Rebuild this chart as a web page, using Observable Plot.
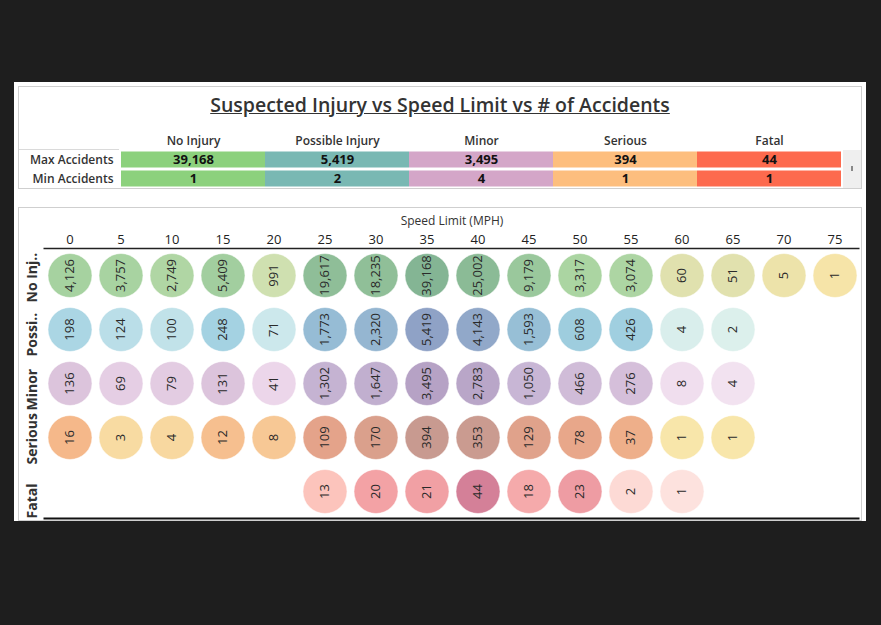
<!DOCTYPE html>
<html><head><meta charset="utf-8">
<script src="https://cdn.jsdelivr.net/npm/d3@7"></script>
<script src="https://cdn.jsdelivr.net/npm/@observablehq/plot@0.6"></script>
<style>
body{margin:0;background:#1e1e1e;}
#page{position:relative;width:881px;height:625px;overflow:hidden;font-family:"Open Sans",sans-serif;}
#sheet{position:absolute;left:14px;top:82px;width:852px;height:439px;background:#fff;}
.panel{position:absolute;border:1px solid #cfcfcf;box-sizing:border-box;}
#top{left:18px;top:86px;width:844px;height:103px;}
#bottom{left:18px;top:207px;width:844px;height:314px;}
#title{position:absolute;left:18px;top:92px;width:844px;text-align:center;font:600 19.5px/26px "Open Sans",sans-serif;color:#333;text-decoration:underline;}
#scroll{position:absolute;left:843px;top:150px;width:18px;height:38px;background:#efefef;}
#scroll div{position:absolute;left:8px;top:16px;width:2px;height:5px;background:#888;}
#hline{position:absolute;left:19px;top:149px;width:100px;height:1px;background:#dadada;}
#tableChart,#bubbleChart{position:absolute;}
#tableChart{left:18px;top:86px;}
#bubbleChart{left:18px;top:207px;}
</style></head>
<body>
<div id="page">
  <div id="sheet"></div>
  <div class="panel" id="top"></div>
  <div class="panel" id="bottom"></div>
  <div id="title">Suspected Injury vs Speed Limit vs # of Accidents</div>
  <div id="hline"></div>
  <div id="scroll"><div></div></div>
  <div id="tableChart"></div>
  <div id="bubbleChart"></div>
</div>
<script>
// ---- data ----
const categories = ["No Injury", "Possible Injury", "Minor", "Serious", "Fatal"];
const statNames = ["Max Accidents", "Min Accidents"];
const maxAccidents = [39168, 5419, 3495, 394, 44];
const minAccidents = [1, 2, 4, 1, 1];

const speeds = [0, 5, 10, 15, 20, 25, 30, 35, 40, 45, 50, 55, 60, 65, 70, 75];
const rowLabels = ["No Inj..", "Possi..", "Minor", "Serious", "Fatal"];
const noInjury       = [4126, 3757, 2749, 5409, 991, 19617, 18235, 39168, 25002, 9179, 3317, 3074, 60, 51, 5, 1];
const possibleInjury = [198, 124, 100, 248, 71, 1773, 2320, 5419, 4143, 1593, 608, 426, 4, 2, null, null];
const minor          = [136, 69, 79, 131, 41, 1302, 1647, 3495, 2783, 1050, 466, 276, 8, 4, null, null];
const serious        = [16, 3, 4, 12, 8, 109, 170, 394, 353, 129, 78, 37, 1, 1, null, null];
const fatal          = [null, null, null, null, null, 13, 20, 21, 44, 18, 23, 2, 1, null, null, null];

// ---- styles ----
const catColors = {"No Injury": "#8cd17d", "Possible Injury": "#79b8b3", "Minor": "#d4a6c8", "Serious": "#fdbe7e", "Fatal": "#fd6a4e"};
const rowRamps = {
  "No Injury":       {d: [1, 60, 991, 3500, 39168], c: ["#f6e4a8", "#e0e1ae", "#cfe0b0", "#a9d4a1", "#84b594"]},
  "Possible Injury": {d: [2, 71, 250, 1000, 5419],  c: ["#dcf0ec", "#cce8ec", "#a4d2e2", "#9acadc", "#8fa2c6"]},
  "Minor":           {d: [4, 41, 130, 1000, 3495],  c: ["#f2e2f0", "#ecd6ea", "#dcc4dc", "#c9b7d6", "#b6a2c5"]},
  "Serious":         {d: [1, 4, 16, 100, 394],      c: ["#f8e6aa", "#f8d8a0", "#f5b88a", "#e6a48a", "#c89a90"]},
  "Fatal":           {d: [1, 13, 20, 44],           c: ["#fde2de", "#fcc4bc", "#f3a2a5", "#d48098"]}
};
const rampScales = {};
for (const k of categories) {
  rampScales[k] = d3.scaleLog().domain(rowRamps[k].d).range(rowRamps[k].c).interpolate(d3.interpolateRgb).clamp(true);
}

const fmt = d3.format(",");

// ---- build tables ----
const tableCells = [];
categories.forEach((c, i) => {
  tableCells.push({cat: c, stat: statNames[0], value: maxAccidents[i]});
  tableCells.push({cat: c, stat: statNames[1], value: minAccidents[i]});
});

const series = [noInjury, possibleInjury, minor, serious, fatal];
const cells = [];
series.forEach((vals, r) => {
  vals.forEach((v, i) => {
    if (v != null) cells.push({row: categories[r], speed: speeds[i], value: v});
  });
});

// ---- table chart ----
const table = Plot.plot({
  width: 843, height: 102,
  marginLeft: 101, marginRight: 18, marginTop: 63, marginBottom: 0,
  style: {background: "transparent", fontFamily: "'Open Sans', sans-serif"},
  x: {type: "band", domain: categories, padding: 0},
  y: {type: "band", domain: statNames, padding: 0},
  color: {type: "identity"},
  marks: [
    Plot.cell(tableCells, {x: "cat", y: "stat", fill: d => catColors[d.cat], insetTop: 1.5, insetBottom: 1.5}),
    Plot.text(tableCells, {x: "cat", y: "stat", text: d => fmt(d.value), fontSize: 13, fontWeight: "bold", fill: "#111"}),
    Plot.axisX({anchor: "top", tickSize: 0, tickPadding: 5, fontSize: 12, fontWeight: 600, fill: "#333", label: null}),
    Plot.axisY({anchor: "left", tickSize: 0, tickPadding: 6, fontSize: 12, fontWeight: 600, fill: "#333", label: null})
  ]
});
document.getElementById("tableChart").append(table);

// ---- bubble chart ----
const bubble = Plot.plot({
  width: 843, height: 313,
  marginLeft: 25.5, marginRight: 1.5, marginTop: 41, marginBottom: 2,
  style: {background: "transparent", fontFamily: "'Open Sans', sans-serif"},
  x: {type: "band", domain: speeds, padding: 0},
  y: {type: "band", domain: categories, padding: 0, axis: null},
  color: {type: "identity"},
  marks: [
    Plot.axisX({anchor: "top", tickSize: 0, tickPadding: 5, fontSize: 13, fill: "#222", label: null}),
    Plot.text(["Speed Limit (MPH)"], {frameAnchor: "top", dy: -32, fontSize: 12, fill: "#333"}),
    Plot.text(categories, {y: d => d, text: (d, i) => rowLabels[i], frameAnchor: "left", dx: -11.5, dy: 27, rotate: -90, fontSize: 14, fontWeight: "bold", fill: "#333"}),
    Plot.dot(cells, {x: "speed", y: "row", r: 22, fill: d => rampScales[d.row](d.value), stroke: "#fff", strokeOpacity: 0.5, strokeWidth: 1}),
    Plot.text(cells, {x: "speed", y: "row", text: d => fmt(d.value), rotate: -90, fontSize: 13, fill: "#2a2a2a"}),
    Plot.ruleY([categories[0]], {dy: -27, stroke: "#222", strokeWidth: 1.5}),
    Plot.ruleY([categories[4]], {dy: 27, stroke: "#111", strokeWidth: 2})
  ]
});
document.getElementById("bubbleChart").append(bubble);
</script>
</body></html>
